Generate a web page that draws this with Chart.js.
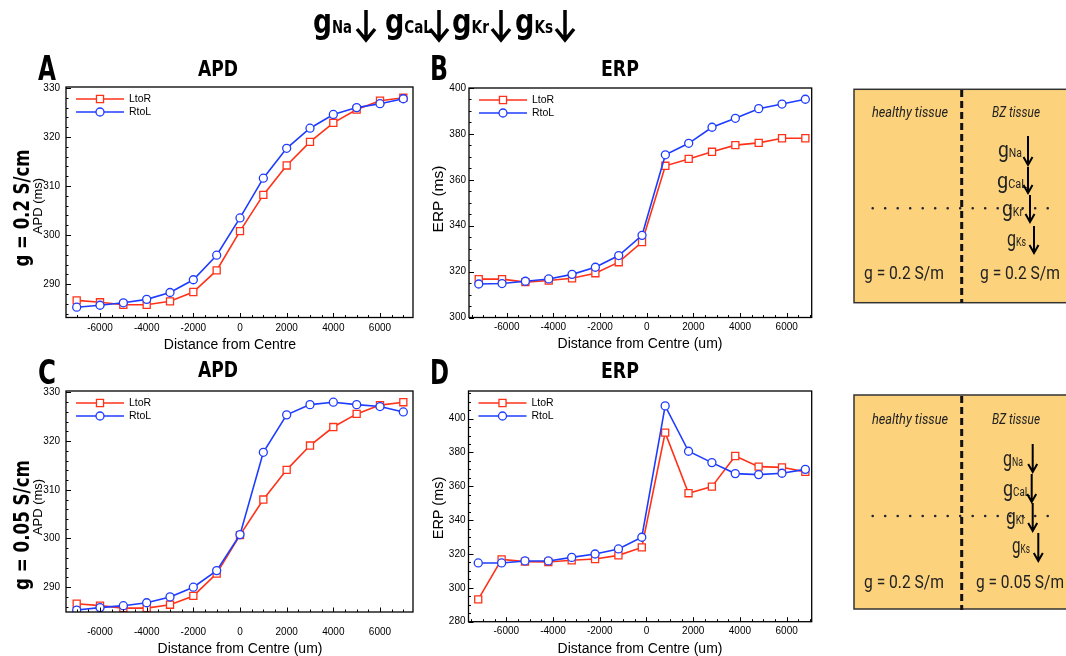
<!DOCTYPE html>
<html><head><meta charset="utf-8">
<script src="https://cdn.jsdelivr.net/npm/chart.js@4/dist/chart.umd.min.js"></script>
<style>
body{margin:0;width:1066px;height:656px;background:#fff;position:relative;overflow:hidden;font-family:'Liberation Sans',Arial,sans-serif}
canvas{position:absolute}
svg{position:absolute;left:0;top:0}
</style></head><body>

<canvas id="cA" width="420" height="280" style="left:0;top:80px"></canvas>
<canvas id="cB" width="420" height="280" style="left:420px;top:80px"></canvas>
<canvas id="cC" width="420" height="276" style="left:0;top:380px"></canvas>
<canvas id="cD" width="420" height="276" style="left:420px;top:380px"></canvas>

<svg width="1066" height="656" viewBox="0 0 1066 656">
  <!-- bold condensed headings -->
  <g font-family="'DejaVu Sans Condensed','DejaVu Sans',sans-serif" font-weight="bold" fill="#000">
    <text x="313" y="33" font-size="34" textLength="39" lengthAdjust="spacingAndGlyphs">g<tspan font-size="17">Na</tspan></text>
    <text x="385" y="33" font-size="34" textLength="47" lengthAdjust="spacingAndGlyphs">g<tspan font-size="17">CaL</tspan></text>
    <text x="452" y="33" font-size="34" textLength="37" lengthAdjust="spacingAndGlyphs">g<tspan font-size="17">Kr</tspan></text>
    <text x="515" y="33" font-size="34" textLength="38" lengthAdjust="spacingAndGlyphs">g<tspan font-size="17">Ks</tspan></text>

    <text x="38" y="80" font-size="34" textLength="18" lengthAdjust="spacingAndGlyphs">A</text>
    <text x="198" y="76" font-size="21" textLength="40" lengthAdjust="spacingAndGlyphs">APD</text>
    <text x="430" y="80" font-size="34" textLength="18" lengthAdjust="spacingAndGlyphs">B</text>
    <text x="601" y="76" font-size="21" textLength="38" lengthAdjust="spacingAndGlyphs">ERP</text>
    <text x="38" y="384" font-size="34" textLength="18" lengthAdjust="spacingAndGlyphs">C</text>
    <text x="198" y="377" font-size="21" textLength="40" lengthAdjust="spacingAndGlyphs">APD</text>
    <text x="430" y="384" font-size="34" textLength="19" lengthAdjust="spacingAndGlyphs">D</text>
    <text x="601" y="378" font-size="21" textLength="38" lengthAdjust="spacingAndGlyphs">ERP</text>

    <text transform="translate(29,208) rotate(-90)" text-anchor="middle" font-size="21" textLength="117" lengthAdjust="spacingAndGlyphs">g = 0.2 S/cm</text>
    <text transform="translate(29,525) rotate(-90)" text-anchor="middle" font-size="21" textLength="130" lengthAdjust="spacingAndGlyphs">g = 0.05 S/cm</text>
  </g>
  <g stroke="#000" stroke-width="3.5" fill="none">
    <path d="M366 10 V39 M357 29 L366 40 L375 29"/>
    <path d="M439 10 V39 M430 29 L439 40 L448 29"/>
    <path d="M501 10 V39 M492 29 L501 40 L510 29"/>
    <path d="M565 10 V39 M556 29 L565 40 L574 29"/>
  </g>

  <!-- axis titles -->
  <g font-family="'Liberation Sans',Arial,sans-serif" fill="#000">
    <text transform="translate(42,206) rotate(-90)" text-anchor="middle" font-size="13">APD (ms)</text>
    <text transform="translate(42,507) rotate(-90)" text-anchor="middle" font-size="13">APD (ms)</text>
    <text transform="translate(443,199) rotate(-90)" text-anchor="middle" font-size="15.5">ERP (ms)</text>
    <text transform="translate(443,508) rotate(-90)" text-anchor="middle" font-size="14.5">ERP (ms)</text>
    <text x="230" y="349" text-anchor="middle" font-size="14">Distance from Centre</text>
    <text x="640" y="348" text-anchor="middle" font-size="14">Distance from Centre (um)</text>
    <text x="240" y="653" text-anchor="middle" font-size="14">Distance from Centre (um)</text>
    <text x="640" y="653" text-anchor="middle" font-size="14">Distance from Centre (um)</text>
  </g>

  <!-- box 1 -->
  <rect x="854" y="89.3" width="230" height="213.4" fill="#fcd27c" stroke="#333" stroke-width="1.5"/>
  <line x1="961.7" y1="90" x2="961.7" y2="303" stroke="#111" stroke-width="3" stroke-dasharray="7 4"/>
  <line x1="872.7" y1="208.3" x2="1053" y2="208.3" stroke="#223" stroke-width="2.6" stroke-linecap="round" stroke-dasharray="0 12.5"/>
  <g font-family="Roboto,'Open Sans',sans-serif" fill="#222">
    <text x="872" y="117" font-size="15" font-style="italic" textLength="76" lengthAdjust="spacingAndGlyphs">healthy tissue</text>
    <text x="992" y="117" font-size="15" font-style="italic" textLength="48" lengthAdjust="spacingAndGlyphs">BZ tissue</text>
    <text x="998" y="157" font-size="22" textLength="24" lengthAdjust="spacingAndGlyphs">g<tspan font-size="12">Na</tspan></text>
    <text x="997" y="188" font-size="22" textLength="30" lengthAdjust="spacingAndGlyphs">g<tspan font-size="12">CaL</tspan></text>
    <text x="1002" y="216" font-size="22" textLength="21" lengthAdjust="spacingAndGlyphs">g<tspan font-size="12">Kr</tspan></text>
    <text x="1007" y="246" font-size="22" textLength="19" lengthAdjust="spacingAndGlyphs">g<tspan font-size="12">Ks</tspan></text>
    <text x="864" y="279" font-size="19" textLength="80" lengthAdjust="spacingAndGlyphs">g = 0.2 S/m</text>
    <text x="980" y="279" font-size="19" textLength="80" lengthAdjust="spacingAndGlyphs">g = 0.2 S/m</text>
  </g>
  <g stroke="#000" stroke-width="2" fill="none">
    <path d="M1028 136 V165 M1023.5 157 L1028 165 L1032.5 157"/>
    <path d="M1028 167 V193 M1023.5 185 L1028 193 L1032.5 185"/>
    <path d="M1030 195 V222 M1025.5 214 L1030 222 L1034.5 214"/>
    <path d="M1034 226 V253 M1029.5 245 L1034 253 L1038.5 245"/>
  </g>

  <!-- box 2 -->
  <rect x="854" y="395" width="230" height="214" fill="#fcd27c" stroke="#333" stroke-width="1.5"/>
  <line x1="961.7" y1="396" x2="961.7" y2="610" stroke="#111" stroke-width="3" stroke-dasharray="7 4"/>
  <line x1="872.7" y1="516" x2="1053" y2="516" stroke="#223" stroke-width="2.6" stroke-linecap="round" stroke-dasharray="0 12.5"/>
  <g font-family="Roboto,'Open Sans',sans-serif" fill="#222">
    <text x="872" y="424" font-size="15" font-style="italic" textLength="76" lengthAdjust="spacingAndGlyphs">healthy tissue</text>
    <text x="992" y="424" font-size="15" font-style="italic" textLength="48" lengthAdjust="spacingAndGlyphs">BZ tissue</text>
    <text x="1003" y="466" font-size="22" textLength="20" lengthAdjust="spacingAndGlyphs">g<tspan font-size="12">Na</tspan></text>
    <text x="1003" y="496" font-size="22" textLength="27" lengthAdjust="spacingAndGlyphs">g<tspan font-size="12">CaL</tspan></text>
    <text x="1006" y="524" font-size="22" textLength="19" lengthAdjust="spacingAndGlyphs">g<tspan font-size="12">Kr</tspan></text>
    <text x="1012" y="553" font-size="22" textLength="18" lengthAdjust="spacingAndGlyphs">g<tspan font-size="12">Ks</tspan></text>
    <text x="864" y="588" font-size="19" textLength="80" lengthAdjust="spacingAndGlyphs">g = 0.2 S/m</text>
    <text x="976" y="588" font-size="19" textLength="88" lengthAdjust="spacingAndGlyphs">g = 0.05 S/m</text>
  </g>
  <g stroke="#000" stroke-width="2" fill="none">
    <path d="M1032.7 444 V472 M1028.2 464 L1032.7 472 L1037.2 464"/>
    <path d="M1031.7 474 V502 M1027.2 494 L1031.7 502 L1036.2 494"/>
    <path d="M1032.7 503 V531 M1028.2 523 L1032.7 531 L1037.2 523"/>
    <path d="M1038.3 533 V561 M1033.8 553 L1038.3 561 L1042.8 553"/>
  </g>
</svg>

<script>
// ---- data ----
const distA = [-7000,-6000,-5000,-4000,-3000,-2000,-1000,0,1000,2000,3000,4000,5000,6000,7000];
const distB = [-7200,-6200,-5200,-4200,-3200,-2200,-1200,-200,800,1800,2800,3800,4800,5800,6800];

const apdLtoR_02 = [286.7,286.3,285.8,285.8,286.5,288.4,292.8,300.8,308.2,314.2,319.0,322.9,325.6,327.4,328.0];
const apdRtoL_02 = [285.3,285.7,286.2,286.9,288.3,290.9,295.9,303.5,311.6,317.7,321.8,324.6,326.0,326.8,327.8];

const erpLtoR_02 = [316.7,316.7,315.4,316.1,317.1,319.3,324.1,332.9,366.1,369.1,372.2,375.1,376.1,378.1,378.1];
const erpRtoL_02 = [314.6,314.8,315.8,316.8,318.8,321.9,327.0,335.8,370.9,375.9,382.9,386.8,391.0,393.0,395.1];

const apdLtoR_005 = [286.6,286.2,285.7,285.7,286.4,288.2,292.8,300.7,308.0,314.1,319.1,322.9,325.6,327.4,328.0];
const apdRtoL_005 = [285.3,285.8,286.2,286.8,288.0,290.0,293.4,300.8,317.7,325.4,327.5,328.0,327.5,327.1,326.0];

const erpLtoR_005 = [293.2,316.8,315.5,315.3,316.3,317.0,319.2,323.9,391.7,355.9,359.8,377.9,371.6,371.2,368.5];
const erpRtoL_005 = [314.7,314.7,315.9,315.9,318.0,320.0,323.0,329.9,407.5,380.7,374.0,367.5,366.9,367.7,370.0];

const xTickLabels = [-6000,-4000,-2000,0,2000,4000,6000];
const apdTickLabels = [290,300,310,320,330];
const erpTickLabelsB = [300,320,340,360,380,400];
const erpTickLabelsD = [280,300,320,340,360,380,400];

const RED = '#ff3219', BLUE = '#1e3cff';
const FONT = "'Liberation Sans', Arial, sans-serif";

const framePlugin = {
  id: 'frame',
  afterDraw(chart, args, o) {
    const {ctx, chartArea: a} = chart;
    const x = chart.scales.x, y = chart.scales.y;
    ctx.save();
    ctx.strokeStyle = '#000';
    ctx.lineWidth = 1.3;
    ctx.strokeRect(a.left, a.top, a.right - a.left, a.bottom - a.top);
    ctx.lineWidth = 1;
    ctx.beginPath();
    for (let v = Math.ceil(y.min / o.yMinor) * o.yMinor; v <= y.max + 1e-9; v += o.yMinor) {
      const p = Math.round(y.getPixelForValue(v)) + 0.5;
      const major = y.ticks.some(t => Math.abs(t.value - v) < 1e-6);
      ctx.moveTo(a.left, p); ctx.lineTo(a.left + (major ? 5 : 2.5), p);
    }
    for (let v = Math.ceil(x.min / o.xMinor) * o.xMinor; v <= x.max + 1e-9; v += o.xMinor) {
      const p = Math.round(x.getPixelForValue(v)) + 0.5;
      const major = x.ticks.some(t => Math.abs(t.value - v) < 1e-6);
      ctx.moveTo(p, a.bottom); ctx.lineTo(p, a.bottom - (major ? 4.5 : 2.5));
    }
    ctx.stroke();
    // legend
    ctx.font = '10.5px ' + FONT;
    ctx.textBaseline = 'middle';
    chart.data.datasets.forEach((d, i) => {
      const ly = a.top + 12 + 13 * i;
      const lx = a.left + 10;
      ctx.strokeStyle = d.borderColor;
      ctx.lineWidth = d.borderWidth;
      ctx.beginPath(); ctx.moveTo(lx, ly); ctx.lineTo(lx + 48, ly); ctx.stroke();
      ctx.lineWidth = d.pointBorderWidth;
      ctx.fillStyle = '#fff';
      ctx.beginPath();
      if (d.pointStyle === 'rect') {
        const s = d.pointRadius * Math.SQRT1_2;
        ctx.rect(lx + 24 - s, ly - s, 2 * s, 2 * s);
      } else {
        ctx.arc(lx + 24, ly, d.pointRadius, 0, Math.PI * 2);
      }
      ctx.fill(); ctx.stroke();
      ctx.fillStyle = '#000';
      ctx.fillText(d.label, lx + 53, ly + 0.5);
    });
    ctx.restore();
  }
};

function makeChart(id, c) {
  const ds = (label, xs, ys, color, style, r, order) => ({
    label, data: xs.map((x, i) => ({x, y: ys[i]})),
    borderColor: color, backgroundColor: '#fff', borderWidth: 1.6,
    pointStyle: style, pointRadius: r, pointHoverRadius: r, pointBorderWidth: 1.3,
    pointBackgroundColor: '#fff', pointBorderColor: color, order, tension: 0, fill: false
  });
  return new Chart(document.getElementById(id), {
    type: 'line',
    data: { datasets: [
      ds('LtoR', c.xs, c.l, RED, 'rect', 5, 1),
      ds('RtoL', c.xs, c.r, BLUE, 'circle', 4, 0)
    ]},
    plugins: [framePlugin],
    options: {
      responsive: false, animation: false, devicePixelRatio: 1,
      layout: { padding: { top: c.pt, right: c.pr, left: 0, bottom: 0 } },
      plugins: { legend: { display: false }, tooltip: { enabled: false },
                 frame: { xMinor: 500, yMinor: c.yMinor } },
      scales: {
        x: {
          type: 'linear', min: c.xmin, max: c.xmax,
          grid: { display: false, drawTicks: false }, border: { display: false },
          ticks: { font: { size: 10, family: FONT }, color: '#000', padding: c.xpad, maxRotation: 0, autoSkip: false,
                   callback: v => String(v) },
          afterBuildTicks: s => { s.ticks = xTickLabels.map(v => ({ value: v })); },
          afterFit: s => { s.height = c.xh; s.paddingLeft = 0; s.paddingRight = 0; }
        },
        y: {
          type: 'linear', min: c.ymin, max: c.ymax,
          grid: { display: false, drawTicks: false }, border: { display: false },
          ticks: { font: { size: 10, family: FONT }, color: '#000', padding: c.ypad, autoSkip: false,
                   callback: v => String(v) },
          afterBuildTicks: s => { s.ticks = c.yt.map(v => ({ value: v })); },
          afterFit: s => { s.width = c.yw; s.paddingTop = 0; s.paddingBottom = 0; }
        }
      }
    }
  });
}

makeChart('cA', { xs: distA, l: apdLtoR_02, r: apdRtoL_02, xmin: -7458, xmax: 7415, ymin: 283.2, ymax: 330.2,
  yt: apdTickLabels, yMinor: 2, pt: 7, pr: 7, yw: 66, xh: 42.5, xpad: 5, ypad: 6 });
makeChart('cB', { xs: distB, l: erpLtoR_02, r: erpRtoL_02, xmin: -7617, xmax: 7072, ymin: 300, ymax: 400,
  yt: erpTickLabelsB, yMinor: 5, pt: 8, pr: 28.3, yw: 49, xh: 42.5, xpad: 4, ypad: 3 });
makeChart('cC', { xs: distA, l: apdLtoR_005, r: apdRtoL_005, xmin: -7458, xmax: 7415, ymin: 284.9, ymax: 330.3,
  yt: apdTickLabels, yMinor: 2, pt: 11, pr: 7, yw: 66, xh: 44, xpad: 14, ypad: 6 });
makeChart('cD', { xs: distB, l: erpLtoR_005, r: erpRtoL_005, xmin: -7617, xmax: 7072, ymin: 280, ymax: 416.3,
  yt: erpTickLabelsD, yMinor: 5, pt: 11, pr: 28.3, yw: 48.5, xh: 34.3, xpad: 4, ypad: 3 });
</script>
</body></html>
